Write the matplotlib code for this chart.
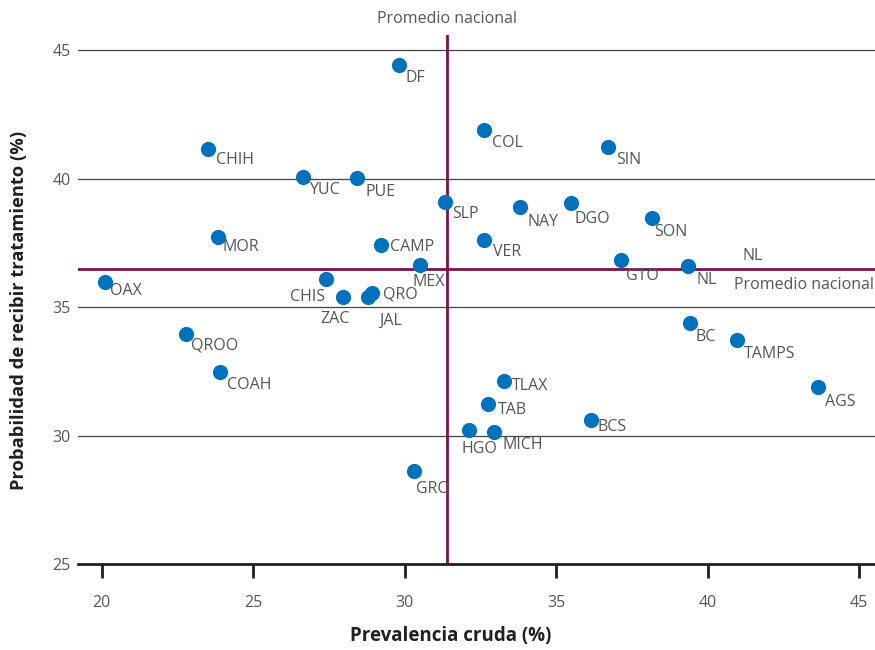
import matplotlib
matplotlib.use('Agg')
import matplotlib.pyplot as plt

# datos
estados = ['DF', 'COL', 'SIN', 'CHIH', 'YUC', 'PUE', 'SLP', 'NAY', 'DGO', 'SON',
           'MOR', 'CAMP', 'VER', 'GTO', 'NL', 'MEX', 'CHIS', 'OAX', 'ZAC', 'QRO',
           'JAL', 'BC', 'QROO', 'TAMPS', 'COAH', 'TLAX', 'AGS', 'TAB', 'BCS',
           'HGO', 'MICH', 'GRO']
prevalencia = [29.81, 32.62, 36.71, 23.50, 26.64, 28.42, 31.33, 33.80, 35.49, 38.16,
               23.83, 29.21, 32.62, 37.14, 39.35, 30.50, 27.40, 20.10, 27.96, 28.92,
               28.78, 39.42, 22.77, 40.97, 23.90, 33.28, 43.65, 32.75, 36.15,
               32.12, 32.95, 30.30]
probabilidad = [44.42, 41.89, 41.23, 41.15, 40.06, 40.02, 39.09, 38.89, 39.05, 38.46,
                37.72, 37.41, 37.61, 36.83, 36.60, 36.63, 36.09, 35.97, 35.39, 35.54,
                35.39, 34.38, 33.95, 33.72, 32.47, 32.12, 31.89, 31.23, 30.60,
                30.21, 30.14, 28.62]
prom_x = 31.39
prom_y = 36.48

# desplazamiento de las etiquetas (pixeles, y hacia abajo)
offsets = {'DF': (7, 13), 'COL': (8, 13), 'SIN': (8, 13), 'CHIH': (8, 11),
           'YUC': (6, 13), 'PUE': (9, 14), 'SLP': (7, 12), 'NAY': (8, 15),
           'DGO': (4, 16), 'SON': (2, 14), 'MOR': (5, 10), 'CAMP': (9, 2),
           'VER': (9, 12), 'GTO': (5, 16), 'NL': (9, 14), 'MEX': (-7, 17),
           'CHIS': (-1, 18), 'OAX': (5, 9), 'ZAC': (-23, 22), 'QRO': (11, 1),
           'JAL': (12, 24), 'BC': (6, 14), 'QROO': (5, 12), 'TAMPS': (7, 14),
           'COAH': (7, 13), 'TLAX': (8, 5), 'AGS': (7, 15), 'TAB': (10, 6),
           'BCS': (7, 7), 'HGO': (-7, 19), 'MICH': (8, 13), 'GRO': (2, 18)}

plt.rcParams['font.family'] = ['Open Sans', 'DejaVu Sans']
texto = '#555555'
oscuro = '#231f20'
vino = '#7d1049'

fig = plt.figure(figsize=(8.75, 6.5), dpi=100)
ax = fig.add_axes([0.089, 0.1323, 0.911, 0.8137])

ax.set_xlim(19.21, 45.53)
ax.set_ylim(25, 45.58)

for yv in [30, 35, 40, 45]:
    ax.axhline(yv, color='#444444', lw=0.9, zorder=1)

ax.axvline(prom_x, color=vino, lw=2, zorder=2)
ax.axhline(prom_y, color=vino, lw=2, zorder=2)

ax.scatter(prevalencia, probabilidad, s=120, color='#0071bc', zorder=3, linewidths=0)

for e, x, y in zip(estados, prevalencia, probabilidad):
    dx, dy = offsets[e]
    ha = 'right' if e == 'CHIS' else 'left'
    ax.annotate(e, (x, y), xytext=(dx, -dy), textcoords='offset pixels',
                ha=ha, va='center', fontsize=11.5, color=texto, zorder=4)

ax.text(prom_x, 1.016, 'Promedio nacional', transform=ax.get_xaxis_transform(),
        ha='center', va='bottom', fontsize=11.5, color=texto)
ax.annotate('Promedio nacional', (45.5, prom_y), xytext=(0, -16),
            textcoords='offset pixels', ha='right', va='center', fontsize=11.5, color=texto)
ax.annotate('NL', (41.17, prom_y), xytext=(0, 13), textcoords='offset pixels',
            ha='left', va='center', fontsize=11.5, color=texto)

ax.set_xticks([20, 25, 30, 35, 40, 45])
ax.set_yticks([25, 30, 35, 40, 45])
for s in ['top', 'right', 'left']:
    ax.spines[s].set_visible(False)
ax.spines['bottom'].set_color(oscuro)
ax.spines['bottom'].set_linewidth(2)
ax.tick_params(axis='x', length=10, width=2, color=oscuro, pad=12, labelsize=11.5, labelcolor=texto)
ax.tick_params(axis='y', length=0, pad=5, labelsize=11.5, labelcolor=texto)

ax.set_xlabel('Prevalencia cruda (%)', fontsize=13.5, fontweight='bold', color=oscuro)
ax.set_ylabel('Probabilidad de recibir tratamiento (%)', fontsize=13.2, fontweight='bold',
              color=oscuro)
ax.xaxis.set_label_coords(0.468, -0.117)
ax.yaxis.set_label_coords(-0.063, 0.48)

fig.savefig('out.png', dpi=100)
